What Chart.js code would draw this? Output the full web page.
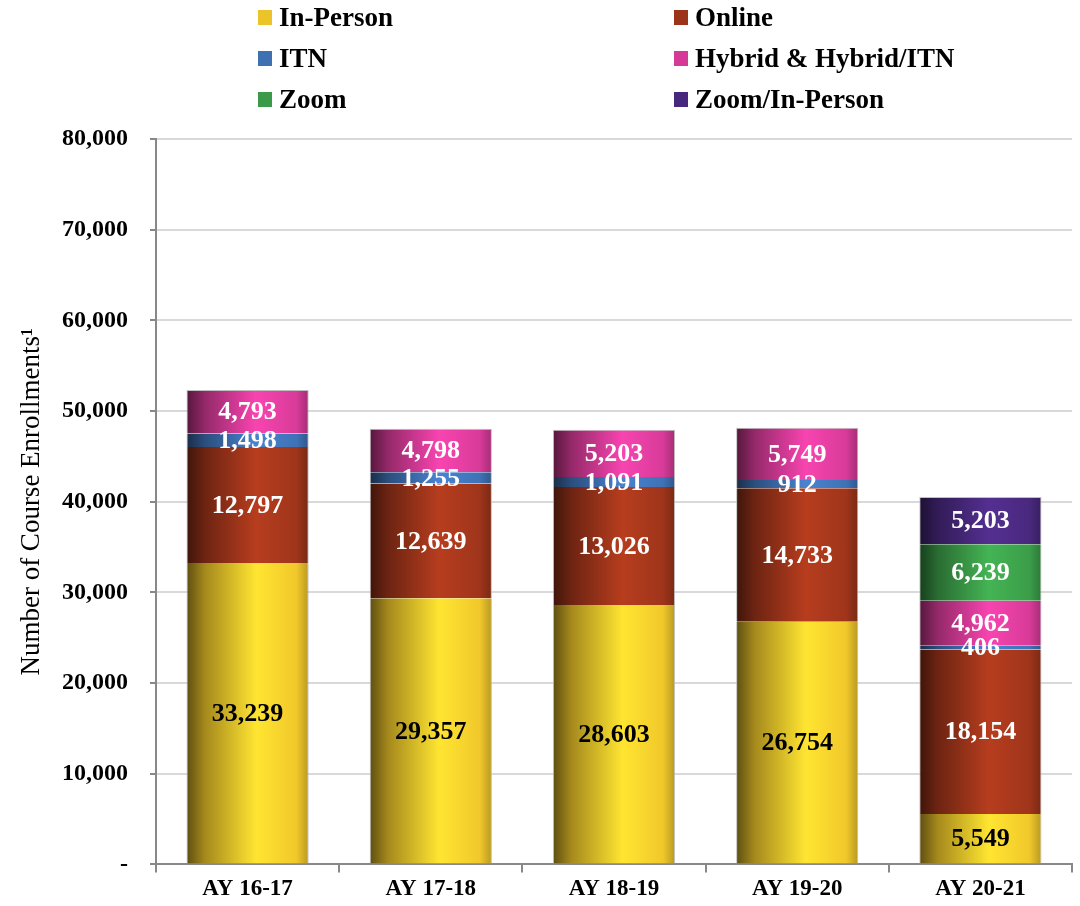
<!DOCTYPE html>
<html>
<head>
<meta charset="utf-8">
<script src="https://cdn.jsdelivr.net/npm/chart.js"></script>
<style>
  body { margin: 0; background: #fff; }
  #wrap { position: relative; width: 1080px; height: 906px; }
  #legend { position: absolute; left: 0; top: 0; width: 1080px; height: 120px;
            font: bold 27px "Liberation Serif", serif; color: #000; }
  .item { position: absolute; display: flex; align-items: center; height: 30px; }
  .item span.box { width: 14px; height: 15px; margin-right: 7px; }
</style>
</head>
<body>
<div id="wrap">
  <canvas id="chart" width="1080" height="906"></canvas>
  <div id="legend"></div>
</div>
<script>
// categories and series values
const years = ["AY 16-17", "AY 17-18", "AY 18-19", "AY 19-20", "AY 20-21"];
const inPerson = [33239, 29357, 28603, 26754, 5549];
const online = [12797, 12639, 13026, 14733, 18154];
const itn = [1498, 1255, 1091, 912, 406];
const hybrid = [4793, 4798, 5203, 5749, 4962];
const zoom = [null, null, null, null, 6239];
const zoomInPerson = [null, null, null, null, 5203];
const yTicks = [0, 10000, 20000, 30000, 40000, 50000, 60000, 70000, 80000];
const yTitle = "Number of Course Enrollments\u00B9";

const series = [
  { label: "In-Person", data: inPerson, color: [236, 196, 42], text: "#000" },
  { label: "Online", data: online, color: [156, 52, 26], text: "#fff" },
  { label: "ITN", data: itn, color: [62, 112, 178], text: "#fff" },
  { label: "Hybrid & Hybrid/ITN", data: hybrid, color: [212, 58, 150], text: "#fff" },
  { label: "Zoom", data: zoom, color: [58, 154, 72], text: "#fff" },
  { label: "Zoom/In-Person", data: zoomInPerson, color: [72, 40, 124], text: "#fff" }
];

function rgb(c, f) {
  const v = c.map(x => Math.max(0, Math.min(255, Math.round(x * f))));
  return `rgb(${v[0]},${v[1]},${v[2]})`;
}

// horizontal shading so each bar looks like a cylinder
function shade(color) {
  return ctx => {
    const chart = ctx.chart;
    const x = chart.scales.x;
    if (!x || !chart.chartArea) return rgb(color, 1);
    const half = (x.width / years.length) * 0.667 / 2;
    const cx = x.getPixelForValue(ctx.dataIndex);
    const g = chart.ctx.createLinearGradient(cx - half, 0, cx + half, 0);
    g.addColorStop(0, rgb(color, 0.4));
    g.addColorStop(0.15, rgb(color, 0.7));
    g.addColorStop(0.57, rgb(color, 1.17));
    g.addColorStop(0.9, rgb(color, 1.02));
    g.addColorStop(1, rgb(color, 0.78));
    return g;
  };
}

function isTop(ctx) {
  const ds = ctx.chart.data.datasets;
  for (let i = ds.length - 1; i >= 0; i--) {
    if (ds[i].data[ctx.dataIndex] != null) return i === ctx.datasetIndex;
  }
  return false;
}

// legend in two columns, built from the series list
const legend = document.getElementById("legend");
series.forEach((s, i) => {
  const el = document.createElement("div");
  el.className = "item";
  el.style.left = (i % 2 === 0 ? 258 : 674) + "px";
  el.style.top = (2 + Math.floor(i / 2) * 41) + "px";
  el.innerHTML = `<span class="box" style="background:${rgb(s.color, 1)}"></span>${s.label}`;
  legend.appendChild(el);
});

const valueLabels = {
  id: "valueLabels",
  afterDatasetsDraw(chart) {
    const c = chart.ctx;
    c.save();
    c.font = "bold 26px 'Liberation Serif', serif";
    c.textAlign = "center";
    c.textBaseline = "middle";
    chart.data.datasets.forEach((ds, di) => {
      chart.getDatasetMeta(di).data.forEach((bar, i) => {
        const v = ds.data[i];
        if (v == null) return;
        c.fillStyle = series[di].text;
        c.fillText(v.toLocaleString("en-US"), bar.x, (bar.y + bar.base) / 2 + 1);
      });
    });
    c.restore();
  }
};

// y axis title drawn by hand so it can sit where the original has it
const sideTitle = {
  id: "sideTitle",
  afterDraw(chart) {
    const c = chart.ctx;
    const a = chart.chartArea;
    c.save();
    c.translate(32, (a.top + a.bottom) / 2);
    c.rotate(-Math.PI / 2);
    c.font = "27px 'Liberation Serif', serif";
    c.fillStyle = "#000";
    c.textAlign = "center";
    c.textBaseline = "middle";
    c.fillText(yTitle, 0, 0);
    c.restore();
  }
};

new Chart(document.getElementById("chart"), {
  type: "bar",
  data: {
    labels: years,
    datasets: series.map(s => ({
      label: s.label,
      data: s.data,
      backgroundColor: shade(s.color),
      borderColor: "rgba(185,185,185,0.9)",
      borderWidth: ctx => ({ left: 1, right: 1, top: isTop(ctx) ? 1 : 0, bottom: 0 }),
      borderSkipped: false,
      categoryPercentage: 0.667,
      barPercentage: 1
    }))
  },
  options: {
    responsive: false,
    animation: false,
    layout: { padding: { top: 139, right: 8, bottom: 0, left: 40 } },
    plugins: { legend: { display: false }, tooltip: { enabled: false } },
    scales: {
      x: {
        stacked: true,
        grid: { drawOnChartArea: false, drawTicks: true, tickLength: 8, tickColor: "#888", lineWidth: 2 },
        border: { color: "#888", width: 2 },
        ticks: { color: "#000", font: { family: "'Liberation Serif', serif", size: 23, weight: "bold" }, padding: 3 }
      },
      y: {
        stacked: true,
        min: 0,
        max: 80000,
        afterBuildTicks: axis => { axis.ticks = yTicks.map(v => ({ value: v })); },
        grid: { color: "#d9d9d9", lineWidth: 2, tickLength: 6, tickColor: "#888" },
        border: { color: "#888", width: 2 },
        ticks: {
          color: "#000",
          padding: 22,
          font: { family: "'Liberation Serif', serif", size: 24, weight: "bold" },
          callback: v => v === 0 ? "-" : v.toLocaleString("en-US")
        }
      }
    }
  },
  plugins: [valueLabels, sideTitle]
});
</script>
</body>
</html>
